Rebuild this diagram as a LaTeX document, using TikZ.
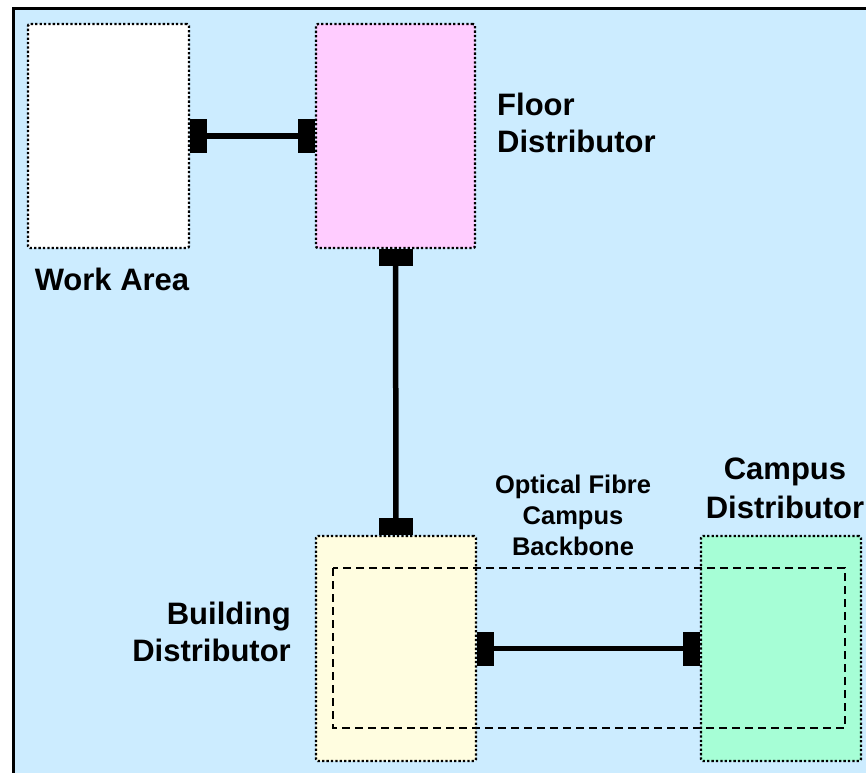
\documentclass[tikz,border=0pt]{standalone}
\usepackage{fontspec}
\setmainfont{Liberation Sans}
\definecolor{bgblue}{HTML}{CCECFF}
\definecolor{pinkfill}{HTML}{FFCCFF}
\definecolor{yellowfill}{HTML}{FFFDE0}
\definecolor{greenfill}{HTML}{A6FED6}
\begin{document}
\begin{tikzpicture}[x=1pt,y=-1pt,
  box/.style={draw=black, line width=2.4pt, dash pattern=on 2.3pt off 2.1pt, rounded corners=2pt, inner sep=0pt, minimum width=160pt, minimum height=224pt},
  blk/.style={fill=black, draw=none, inner sep=0pt, minimum width=17pt, minimum height=34pt},
  vblk/.style={fill=black, draw=none, inner sep=0pt, minimum width=34pt, minimum height=17pt},
  wire/.style={line width=5.5pt, black},
  lbl/.style={font=\bfseries\fontsize{31}{37}\selectfont, inner sep=0pt},
  smalllbl/.style={font=\bfseries\fontsize{25.5}{31}\selectfont, inner sep=0pt, align=center}
]
\useasboundingbox (0,0) rectangle (866,772);
% background frame
\draw[line width=3pt, fill=bgblue] (13,8) rectangle (900,800);

% boxes
\node[box, fill=white, minimum width=161pt] (wa) at (108.5,136) {};
\node[box, fill=pinkfill, minimum width=159pt] (fd) at (395.5,136) {};
\node[box, fill=yellowfill, minimum height=225pt] (bd) at (396,648.5) {};
\node[box, fill=greenfill, minimum height=225pt] (cd) at (781,648.5) {};

% dashed backbone outline
\draw[line width=1.5pt, dash pattern=on 8pt off 5pt] (333,568) rectangle (845,728);

% connector blocks
\node[blk, anchor=west] (c1) at (wa.east) {};
\node[blk, anchor=east] (c2) at (fd.west) {};
\node[vblk, anchor=north] (c3) at (fd.south) {};
\node[vblk, anchor=south] (c4) at (bd.north) {};
\node[blk, anchor=west] (c5) at (bd.east) {};
\node[blk, anchor=east] (c6) at (cd.west) {};

% wires
\draw[wire] (c1.center) -- (c2.center);
\draw[wire] (c3.center) -- (c4.center);
\draw[wire] (c5.center) -- (c6.center);

% labels
\node[lbl] (lwa) at (112,279) {Work Area};
\node[lbl, align=left, anchor=west] (lfd) at (497,123) {Floor\\Distributor};
\node[lbl, align=right, anchor=east] (lbd) at (291,632) {Building\\Distributor};
\node[lbl, align=center, font=\bfseries\fontsize{31}{39}\selectfont] (lcd) at (785,488) {Campus\\Distributor};
\node[smalllbl] (lof) at (573,515) {Optical Fibre\\Campus\\Backbone};
\end{tikzpicture}
\end{document}
